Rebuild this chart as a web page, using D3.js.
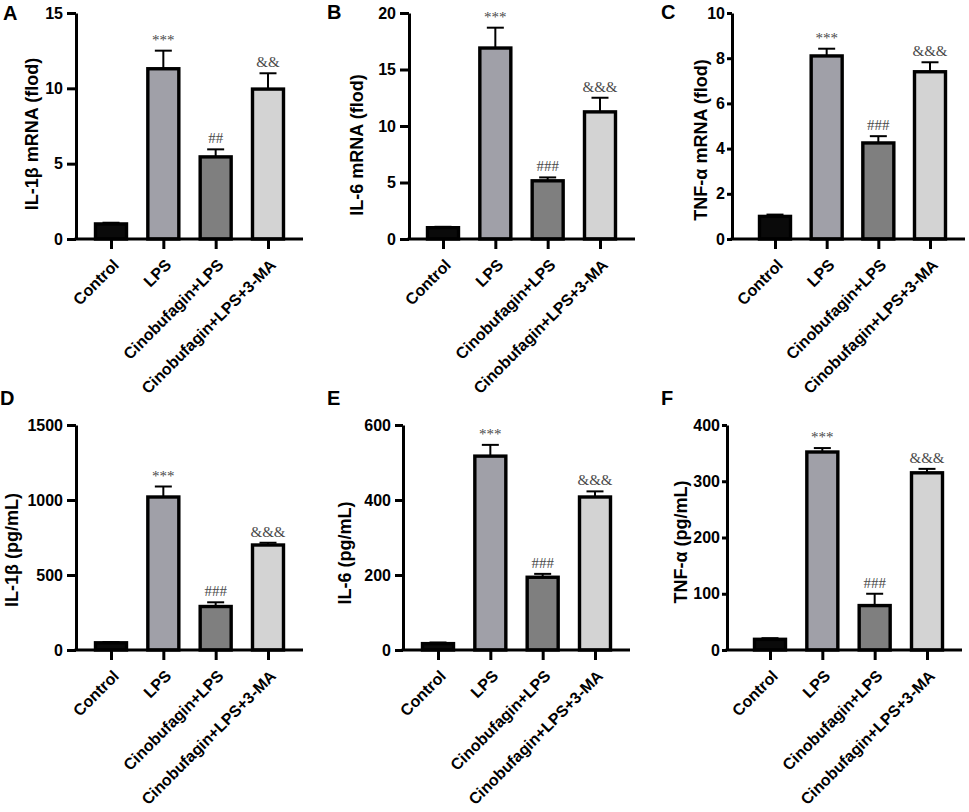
<!DOCTYPE html>
<html>
<head>
<meta charset="utf-8">
<script src="https://cdn.jsdelivr.net/npm/d3@7"></script>
<style>
  body { margin: 0; background: #fff; }
</style>
</head>
<body>
<div id="canvas"></div>
<script>
"use strict"

/* Groups shown on every panel */
let groups = ["Control", "LPS", "Cinobufagin+LPS", "Cinobufagin+LPS+3-MA"];
let barColors = ["#0a0a0a", "#a0a0a8", "#7f7f7f", "#d3d3d3"];

/* Values (mean and upper error) */
let il1bMrna = [1.0, 11.3, 5.45, 9.95];
let il1bMrnaErr = [0.08, 1.2, 0.5, 1.05];
let il6Mrna = [1.0, 16.9, 5.15, 11.25];
let il6MrnaErr = [0.08, 1.8, 0.3, 1.25];
let tnfMrna = [1.0, 8.1, 4.25, 7.4];
let tnfMrnaErr = [0.08, 0.32, 0.3, 0.42];
let il1bPg = [48, 1020, 290, 700];
let il1bPgErr = [5, 70, 28, 15];
let il6Pg = [17, 517, 194, 408];
let il6PgErr = [3, 30, 9, 15];
let tnfPg = [19, 352, 79, 315];
let tnfPgErr = [2, 7, 21, 7];

/* Significance marks */
let marksA = ["", "***", "##", "&&"];
let marksOther = ["", "***", "###", "&&&"];

/* Tick values */
let ticksA = [0, 5, 10, 15];
let ticksB = [0, 5, 10, 15, 20];
let ticksC = [0, 2, 4, 6, 8, 10];
let ticksD = [0, 500, 1000, 1500];
let ticksE = [0, 200, 400, 600];
let ticksF = [0, 100, 200, 300, 400];

let sans = "Liberation Sans, Arial, sans-serif";

let drawing = d3.select("#canvas")
    .append("svg")
    .attr("width", 969)
    .attr("height", 812);

/* panel layout: axis position, lead to first bar, tick length, label position */
let panels = [
  {letter: "A", lx: 3, ly: 20, x0: 76, x1: 303, lead: 35, top: 13, zero: 239, tl: 9,
   vals: il1bMrna, errs: il1bMrnaErr, marks: marksA, ticks: ticksA,
   title: "IL-1β mRNA (flod)", tx: 32, ty: 134},
  {letter: "B", lx: 327, ly: 19, x0: 409, x1: 635, lead: 34, top: 13, zero: 239, tl: 9,
   vals: il6Mrna, errs: il6MrnaErr, marks: marksOther, ticks: ticksB,
   title: "IL-6 mRNA (flod)", tx: 357, ty: 145},
  {letter: "C", lx: 661, ly: 19, x0: 732, x1: 965, lead: 43, top: 13, zero: 239, tl: 5,
   vals: tnfMrna, errs: tnfMrnaErr, marks: marksOther, ticks: ticksC,
   title: "TNF-α mRNA (flod)", tx: 701, ty: 140},
  {letter: "D", lx: 0, ly: 405, x0: 76, x1: 303, lead: 35, top: 425, zero: 650, tl: 9,
   vals: il1bPg, errs: il1bPgErr, marks: marksOther, ticks: ticksD,
   title: "IL-1β (pg/mL)", tx: 12, ty: 550},
  {letter: "E", lx: 327, ly: 405, x0: 403, x1: 630, lead: 35, top: 425, zero: 650, tl: 8,
   vals: il6Pg, errs: il6PgErr, marks: marksOther, ticks: ticksE,
   title: "IL-6 (pg/mL)", tx: 345, ty: 553},
  {letter: "F", lx: 661, ly: 405, x0: 727, x1: 962, lead: 43, top: 425, zero: 650, tl: 5,
   vals: tnfPg, errs: tnfPgErr, marks: marksOther, ticks: ticksF,
   title: "TNF-α (pg/mL)", tx: 681, ty: 542}
];

panels.forEach(function(p) {
  let g = drawing.append("g");

  let x = d3.scalePoint()
    .domain(groups)
    .range([p.x0 + p.lead, p.x1 - 35]);

  let y = d3.scaleLinear()
    .domain([0, d3.max(p.ticks)])
    .range([p.zero, p.top]);

  /* bars */
  g.selectAll("rect.bar")
    .data(p.vals)
    .enter().append("rect")
    .attr("class", "bar")
    .attr("x", (d, i) => x(groups[i]) - 15.5)
    .attr("y", d => y(d))
    .attr("width", 31)
    .attr("height", d => p.zero - y(d))
    .attr("fill", (d, i) => barColors[i])
    .attr("stroke", "black")
    .attr("stroke-width", 3.4);

  /* error bars, upper only */
  g.selectAll("line.err")
    .data(p.vals)
    .enter().append("line")
    .attr("x1", (d, i) => x(groups[i]))
    .attr("x2", (d, i) => x(groups[i]))
    .attr("y1", d => y(d))
    .attr("y2", (d, i) => y(d + p.errs[i]))
    .attr("stroke", "black")
    .attr("stroke-width", 2);

  g.selectAll("line.cap")
    .data(p.vals)
    .enter().append("line")
    .attr("x1", (d, i) => x(groups[i]) - 8.5)
    .attr("x2", (d, i) => x(groups[i]) + 8.5)
    .attr("y1", (d, i) => y(d + p.errs[i]))
    .attr("y2", (d, i) => y(d + p.errs[i]))
    .attr("stroke", "black")
    .attr("stroke-width", 2);

  /* significance marks */
  g.selectAll("text.mark")
    .data(p.marks)
    .enter().append("text")
    .attr("x", (d, i) => x(groups[i]))
    .attr("y", (d, i) => y(p.vals[i] + p.errs[i]) - 6)
    .attr("text-anchor", "middle")
    .attr("font-family", "Liberation Serif, serif")
    .attr("font-size", 15)
    .attr("fill", "#4a4a4a")
    .text(d => d);

  /* y axis */
  let yAxis = g.append("g")
    .attr("transform", "translate(" + p.x0 + ",0)")
    .call(d3.axisLeft(y).tickValues(p.ticks).tickFormat(d3.format("d"))
      .tickSize(p.tl).tickSizeOuter(0).tickPadding(p.tl < 7 ? 2 : 4));
  yAxis.select(".domain").attr("stroke-width", 3);
  yAxis.selectAll(".tick line").attr("stroke-width", 3);
  yAxis.selectAll(".tick text")
    .style("font-family", sans)
    .style("font-weight", "bold")
    .style("font-size", "16px")
    .attr("fill", "black");

  /* x axis */
  let xAxis = g.append("g")
    .attr("transform", "translate(0," + p.zero + ")")
    .call(d3.axisBottom(x).tickSize(10).tickFormat(""));
  xAxis.select(".domain").remove();
  xAxis.selectAll(".tick line").attr("stroke-width", 3);

  g.append("line")
    .attr("x1", p.x0 - 1.5)
    .attr("x2", p.x1)
    .attr("y1", p.zero)
    .attr("y2", p.zero)
    .attr("stroke", "black")
    .attr("stroke-width", 3);

  g.selectAll("text.xlab")
    .data(groups)
    .enter().append("text")
    .attr("transform", d => "translate(" + (x(d) + 9) + "," + (p.zero + 27) + ") rotate(-45)")
    .attr("text-anchor", "end")
    .style("font-family", sans)
    .style("font-weight", "bold")
    .style("font-size", "16px")
    .text(d => d);

  /* y title */
  g.append("text")
    .attr("transform", "translate(" + p.tx + "," + p.ty + ") rotate(-90)")
    .attr("text-anchor", "middle")
    .attr("dominant-baseline", "central")
    .style("font-family", sans)
    .style("font-weight", "bold")
    .style("font-size", "18px")
    .text(p.title);

  /* panel letter */
  g.append("text")
    .attr("x", p.lx)
    .attr("y", p.ly)
    .style("font-family", sans)
    .style("font-weight", "bold")
    .style("font-size", "20px")
    .text(p.letter);
});
</script>
</body>
</html>
